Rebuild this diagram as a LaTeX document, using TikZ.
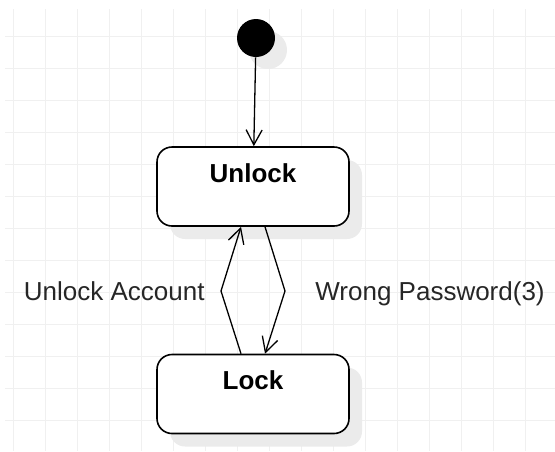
\documentclass[tikz,border=0pt]{standalone}
\usepackage{fontspec}
\setmainfont{Liberation Sans}
\usetikzlibrary{arrows.meta,shadows}
\tikzset{
  state/.style={
      draw,
      rounded corners=7.5pt,
      line width=0.8pt,
      fill=white,
      minimum width=96pt,
      inner xsep=0pt,
      inner ysep=0pt,
      text height=17.6pt,
      text depth=21.9pt,
      font=\bfseries\fontsize{13}{15}\selectfont,
      drop shadow={shadow xshift=6.5pt,shadow yshift=-6.5pt,fill=black!8,opacity=1}
  },
  start/.style={
      circle,
      fill=black,
      minimum size=19pt,
      inner sep=0pt,
      drop shadow={shadow xshift=6pt,shadow yshift=-6pt,fill=black!8,opacity=1}
  },
  trans/.style={
      line width=0.65pt,
      -{Straight Barb[length=7.5pt,width=8pt,line width=0.65pt]}
  },
  guard/.style={
      inner sep=0pt,
      font=\fontsize{13}{15}\selectfont,
      text=black!85
  }
}

\begin{document}
\begin{tikzpicture}[x=0.5pt,y=-0.5pt]
    \useasboundingbox (0,0) rectangle (555,451);
    % grid
    \foreach \gx in {13,45,...,525}
        \draw[black!6,line width=0.5pt] (\gx,9) -- (\gx,451);
    \foreach \gy in {36,68,...,420}
        \draw[black!6,line width=0.5pt] (5,\gy) -- (555,\gy);
    % states
    \node[start] (init) at (256,38) {};
    \node[state] (unlock) at (253,186.5) {Unlock};
    \node[state] (lock) at (253,394) {Lock};
    \coordinate (ua) at (221,291);
    \coordinate (wp) at (285,291);
    % transitions
    \draw[trans] (init) -- (unlock);
    \draw[trans] ([xshift=-6pt]lock.north) -- (ua) -- ([xshift=-6pt]unlock.south);
    \draw[trans] ([xshift=6pt]unlock.south) -- (wp) -- ([xshift=6pt]lock.north);
    \node[guard,anchor=base east] (ualabel) at ([xshift=-8pt,yshift=-4.6pt]ua) {Unlock Account};
    \node[guard,anchor=base west] (wplabel) at ([xshift=15pt,yshift=-4.7pt]wp) {Wrong Password(3)};
\end{tikzpicture}
\end{document}
